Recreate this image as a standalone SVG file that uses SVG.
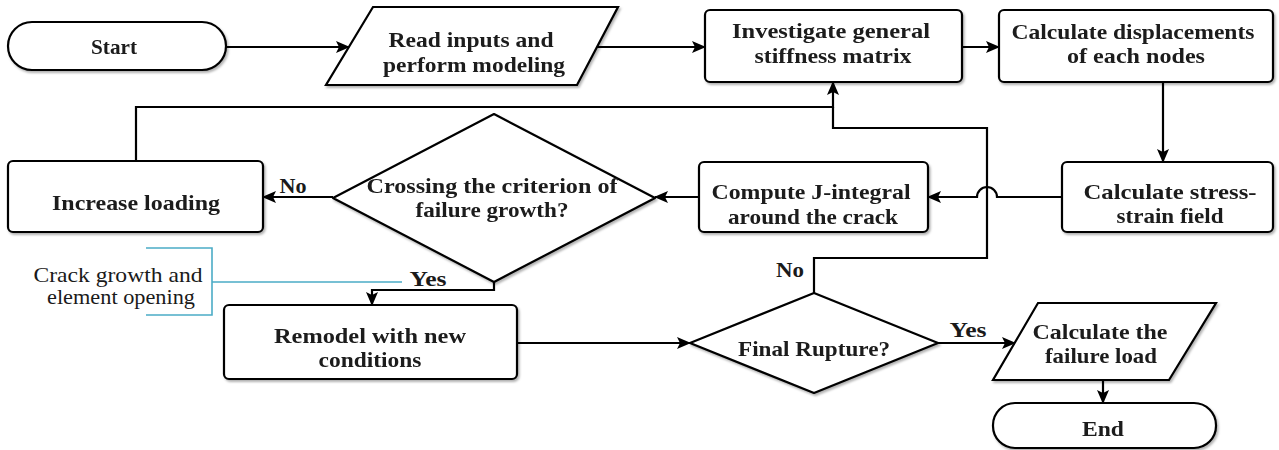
<svg xmlns="http://www.w3.org/2000/svg" width="1279" height="450" viewBox="0 0 1279 450">
<style>
.n{fill:#fff;stroke:#000;stroke-width:2.2}
.t{font-family:"Liberation Serif","Times New Roman",serif;font-weight:bold;font-size:21px;fill:#1a1a1a;text-anchor:middle}
.c{fill:none;stroke:#000;stroke-width:2.2}
.b{fill:none;stroke:#4bacc6;stroke-width:1.6}
.r{font-family:"Liberation Serif","Times New Roman",serif;font-size:21px;fill:#1a1a1a;text-anchor:middle}
</style>
<defs>
<marker id="a" markerUnits="userSpaceOnUse" markerWidth="14" markerHeight="12" refX="13" refY="6" orient="auto"><path d="M0,0 L14,6 L0,12 L3,6 Z" fill="#000"/></marker>
<filter id="s" x="-5%" y="-5%" width="110%" height="120%"><feDropShadow dx="1.5" dy="2" stdDeviation="1.2" flood-color="#000" flood-opacity="0.3"/></filter>
</defs>
<g id="connectors">
<path class="c" d="M226,47 H349" marker-end="url(#a)"/>
<path class="c" d="M597,47 H705" marker-end="url(#a)"/>
<path class="c" d="M962,47 H999" marker-end="url(#a)"/>
<path class="c" d="M1163,82 V162" marker-end="url(#a)"/>
<path class="c" d="M1062,197 H997 A10,10 0 0 0 977,197 H928" marker-end="url(#a)"/>
<path class="c" d="M699,197 H655" marker-end="url(#a)"/>
<path class="c" d="M333,197 H263" marker-end="url(#a)"/>
<path class="c" d="M136,161 V107 H833 V82" marker-end="url(#a)"/>
<path class="c" d="M814,293 V258 H987 V128 H833 V107"/>
<path class="c" d="M494,282 V290 H372 V305" marker-end="url(#a)"/>
<path class="c" d="M517,343 H690" marker-end="url(#a)"/>
<path class="c" d="M938,343 H1015" marker-end="url(#a)"/>
<path class="c" d="M1103,380 V403" marker-end="url(#a)"/>
<text class="t" x="293" y="193" textLength="27" lengthAdjust="spacingAndGlyphs">No</text>
<text class="t" x="428" y="286" textLength="37" lengthAdjust="spacingAndGlyphs">Yes</text>
<text class="t" x="790" y="277" textLength="28" lengthAdjust="spacingAndGlyphs" fill="#1f2d3d">No</text>
<text class="t" x="968" y="337" textLength="37" lengthAdjust="spacingAndGlyphs">Yes</text>
</g>
<g id="note">
<path class="b" d="M146,248 H212 V315 H146 M212,282 H402"/>
<text class="r" x="118" y="282" textLength="169" lengthAdjust="spacingAndGlyphs">Crack growth and</text>
<text class="r" x="121" y="304" textLength="148" lengthAdjust="spacingAndGlyphs">element opening</text>
</g>
<g id="start" filter="url(#s)">
<rect class="n" x="8" y="22" width="218" height="48" rx="24"/>
<text class="t" x="114" y="54" textLength="46" lengthAdjust="spacingAndGlyphs" fill="#3b2314">Start</text>
</g>
<g id="read" filter="url(#s)">
<polygon class="n" points="373,7 618,7 577,85 326,85"/>
<text class="t" x="471" y="47" textLength="165" lengthAdjust="spacingAndGlyphs">Read inputs and</text>
<text class="t" x="474" y="72" textLength="182" lengthAdjust="spacingAndGlyphs">perform modeling</text>
</g>
<g id="investigate" filter="url(#s)">
<rect class="n" x="705" y="10" width="257" height="72" rx="5"/>
<text class="t" x="831" y="38" textLength="198" lengthAdjust="spacingAndGlyphs">Investigate general</text>
<text class="t" x="833" y="63" textLength="157" lengthAdjust="spacingAndGlyphs">stiffness matrix</text>
</g>
<g id="displacements" filter="url(#s)">
<rect class="n" x="999" y="10" width="274" height="72" rx="5"/>
<text class="t" x="1133" y="39" textLength="243" lengthAdjust="spacingAndGlyphs">Calculate displacements</text>
<text class="t" x="1136" y="63" textLength="138" lengthAdjust="spacingAndGlyphs">of each nodes</text>
</g>
<g id="stress" filter="url(#s)">
<rect class="n" x="1062" y="162" width="211" height="70" rx="5"/>
<text class="t" x="1170" y="199" textLength="173" lengthAdjust="spacingAndGlyphs">Calculate stress-</text>
<text class="t" x="1170" y="223" textLength="107" lengthAdjust="spacingAndGlyphs">strain field</text>
</g>
<g id="jintegral" filter="url(#s)">
<rect class="n" x="699" y="162" width="229" height="70" rx="5"/>
<text class="t" x="811" y="199" textLength="199" lengthAdjust="spacingAndGlyphs">Compute J-integral</text>
<text class="t" x="813" y="224" textLength="170" lengthAdjust="spacingAndGlyphs">around the crack</text>
</g>
<g id="criterion" filter="url(#s)">
<polygon class="n" points="494,114 655,198 494,282 333,198" stroke-linejoin="round"/>
<text class="t" x="492" y="193" textLength="251" lengthAdjust="spacingAndGlyphs">Crossing the criterion of</text>
<text class="t" x="492" y="217" textLength="153" lengthAdjust="spacingAndGlyphs">failure growth?</text>
</g>
<g id="increase" filter="url(#s)">
<rect class="n" x="8" y="161" width="255" height="71" rx="5"/>
<text class="t" x="136" y="210" textLength="168" lengthAdjust="spacingAndGlyphs">Increase loading</text>
</g>
<g id="remodel" filter="url(#s)">
<rect class="n" x="224" y="305" width="293" height="74" rx="5"/>
<text class="t" x="370" y="343" textLength="192" lengthAdjust="spacingAndGlyphs">Remodel with new</text>
<text class="t" x="370" y="367" textLength="103" lengthAdjust="spacingAndGlyphs">conditions</text>
</g>
<g id="rupture" filter="url(#s)">
<polygon class="n" points="814,293 938,343 814,393 690,343" stroke-linejoin="round"/>
<text class="t" x="814" y="356" textLength="152" lengthAdjust="spacingAndGlyphs">Final Rupture?</text>
</g>
<g id="failureload" filter="url(#s)">
<polygon class="n" points="1038,303 1216,303 1169,380 993,380"/>
<text class="t" x="1100" y="339" textLength="135" lengthAdjust="spacingAndGlyphs">Calculate the</text>
<text class="t" x="1101" y="363" textLength="112" lengthAdjust="spacingAndGlyphs">failure load</text>
</g>
<g id="end" filter="url(#s)">
<rect class="n" x="993" y="403" width="223" height="45" rx="22"/>
<text class="t" x="1103" y="436" textLength="42" lengthAdjust="spacingAndGlyphs" fill="#3b2314">End</text>
</g>
</svg>
